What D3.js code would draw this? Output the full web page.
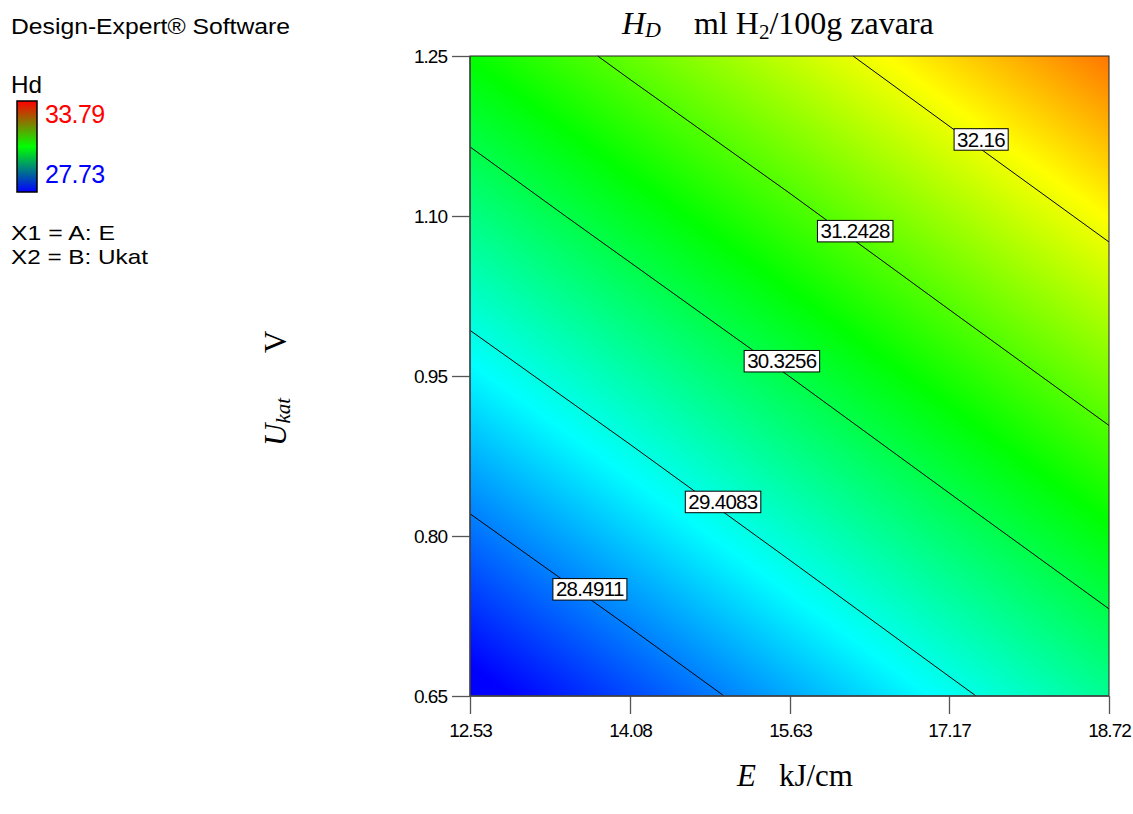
<!DOCTYPE html>
<html>
<head>
<meta charset="utf-8">
<script src="https://cdn.jsdelivr.net/npm/d3@7"></script>
<style>
  html, body { margin: 0; padding: 0; background: #fff; }
  svg { display: block; }
</style>
</head>
<body>
<svg id="chart" width="1133" height="814"></svg>
<script>
// ---------------- data ----------------
const eTicks = [12.53, 14.08, 15.63, 17.17, 18.72];   // E, kJ/cm (grid columns)
const uTicks = [0.65, 0.80, 0.95, 1.10, 1.25];        // Ukat, V (grid rows)
const eTickLabels = ["12.53", "14.08", "15.63", "17.17", "18.72"];
const uTickLabels = ["0.65", "0.80", "0.95", "1.10", "1.25"];
// Hd response estimated at the grid nodes, one row per Ukat value
const hdRow065 = [27.58, 28.15, 28.73, 29.31, 29.89];
const hdRow080 = [28.38, 28.95, 29.53, 30.11, 30.69];
const hdRow095 = [29.18, 29.75, 30.33, 30.91, 31.49];
const hdRow110 = [29.98, 30.56, 31.13, 31.71, 32.29];
const hdRow125 = [30.78, 31.36, 31.93, 32.51, 33.09];
const contourLevels = [28.4911, 29.4083, 30.3256, 31.2428, 32.16];
const contourLabels = ["28.4911", "29.4083", "30.3256", "31.2428", "32.16"];
const labelAtE = [13.69, 14.98, 15.55, 16.26, 17.48];
const legendLow = 27.73, legendHigh = 33.79;

const hdGrid = [hdRow065, hdRow080, hdRow095, hdRow110, hdRow125];

// ---------------- layout ----------------
const svg = d3.select("#chart");
const x = d3.scaleLinear().domain([eTicks[0], eTicks[eTicks.length - 1]]).range([470, 1109]);
const y = d3.scaleLinear().domain([uTicks[0], uTicks[uTicks.length - 1]]).range([696, 56]);
const mid = (legendLow + legendHigh) / 2;
const q1 = legendLow + (legendHigh - legendLow) / 4, q3 = legendLow + 3 * (legendHigh - legendLow) / 4;
const color = d3.scaleLinear()
  .domain([legendLow, q1, mid, q3, legendHigh])
  .range(["#0000ff", "#00ffff", "#00ff00", "#ffff00", "#ff0000"])
  .clamp(true);

// bilinear lookup in the grid
function hdAt(e, u) {
  let i = Math.min(Math.max(d3.bisectRight(eTicks, e) - 1, 0), eTicks.length - 2);
  let j = Math.min(Math.max(d3.bisectRight(uTicks, u) - 1, 0), uTicks.length - 2);
  const tx = (e - eTicks[i]) / (eTicks[i + 1] - eTicks[i]);
  const ty = (u - uTicks[j]) / (uTicks[j + 1] - uTicks[j]);
  const v00 = hdGrid[j][i], v10 = hdGrid[j][i + 1], v01 = hdGrid[j + 1][i], v11 = hdGrid[j + 1][i + 1];
  return (1 - ty) * ((1 - tx) * v00 + tx * v10) + ty * ((1 - tx) * v01 + tx * v11);
}

// ---------------- raster fill ----------------
const [px0, px1] = x.range();
const [py1, py0] = y.range();
const W = Math.round(px1 - px0), H = Math.round(py1 - py0);
const cv = document.createElement("canvas");
cv.width = W; cv.height = H;
const ctx = cv.getContext("2d");
const img = ctx.createImageData(W, H);
for (let r = 0; r < H; r++) {
  const u = y.invert(py0 + r + 0.5);
  for (let c = 0; c < W; c++) {
    const e = x.invert(px0 + c + 0.5);
    const col = d3.rgb(color(hdAt(e, u)));
    const k = (r * W + c) * 4;
    img.data[k] = col.r; img.data[k + 1] = col.g; img.data[k + 2] = col.b; img.data[k + 3] = 255;
  }
}
ctx.putImageData(img, 0, 0);
svg.append("image")
  .attr("x", px0).attr("y", py0).attr("width", W).attr("height", H)
  .attr("preserveAspectRatio", "none")
  .attr("href", cv.toDataURL());

// ---------------- contour segments (marching squares) ----------------
function segmentsFor(level) {
  const segs = [];
  for (let j = 0; j < uTicks.length - 1; j++) {
    for (let i = 0; i < eTicks.length - 1; i++) {
      const c = [
        [eTicks[i], uTicks[j], hdGrid[j][i]],
        [eTicks[i + 1], uTicks[j], hdGrid[j][i + 1]],
        [eTicks[i + 1], uTicks[j + 1], hdGrid[j + 1][i + 1]],
        [eTicks[i], uTicks[j + 1], hdGrid[j + 1][i]]
      ];
      const pts = [];
      for (let k = 0; k < 4; k++) {
        const a = c[k], b = c[(k + 1) % 4];
        if ((a[2] < level) !== (b[2] < level)) {
          const t = (level - a[2]) / (b[2] - a[2]);
          pts.push([a[0] + t * (b[0] - a[0]), a[1] + t * (b[1] - a[1])]);
        }
      }
      for (let k = 0; k + 1 < pts.length; k += 2) segs.push([pts[k], pts[k + 1]]);
    }
  }
  return segs;
}

const gC = svg.append("g").attr("class", "contours");
const labelData = [];
contourLevels.forEach((lv, li) => {
  const segs = segmentsFor(lv);
  segs.forEach(s => {
    gC.append("line")
      .attr("x1", x(s[0][0])).attr("y1", y(s[0][1]))
      .attr("x2", x(s[1][0])).attr("y2", y(s[1][1]))
      .attr("stroke", "#000").attr("stroke-width", 1);
    const eL = labelAtE[li];
    const lo = Math.min(s[0][0], s[1][0]), hi = Math.max(s[0][0], s[1][0]);
    if (eL >= lo && eL <= hi && hi > lo) {
      const t = (eL - s[0][0]) / (s[1][0] - s[0][0]);
      labelData.push({ e: eL, u: s[0][1] + t * (s[1][1] - s[0][1]), text: contourLabels[li] });
    }
  });
});

// frame
svg.append("rect")
  .attr("x", px0).attr("y", py0).attr("width", W).attr("height", H)
  .attr("fill", "none").attr("stroke", "#222").attr("stroke-width", 1);

// contour labels (box sits slightly above the line, as in the reference)
const gL = svg.append("g");
labelData.forEach(d => {
  const g = gL.append("g").attr("transform", `translate(${x(d.e)},${y(d.u) - 10})`);
  const rect = g.append("rect").attr("fill", "#fff").attr("stroke", "#000").attr("stroke-width", 1);
  const t = g.append("text")
    .attr("text-anchor", "middle").attr("dy", "0.36em")
    .attr("font-family", "Liberation Sans, Arial, sans-serif").attr("font-size", 20.5)
    .attr("letter-spacing", -0.7)
    .text(d.text);
  const bb = t.node().getBBox();
  rect.attr("x", bb.x - 3).attr("y", -10.5).attr("width", bb.width + 6).attr("height", 21.5);
});

// ---------------- axes ----------------
const xAxis = d3.axisBottom(x).tickValues(eTicks).tickSize(18).tickPadding(10)
  .tickFormat((d, i) => eTickLabels[i]);
const yAxis = d3.axisLeft(y).tickValues(uTicks).tickSize(18).tickPadding(5)
  .tickFormat((d, i) => uTickLabels[i]);
const gx = svg.append("g").attr("transform", `translate(0,${py1})`).call(xAxis);
const gy = svg.append("g").attr("transform", `translate(${px0},0)`).call(yAxis);
[gx, gy].forEach(g => {
  g.select(".domain").remove();
  g.selectAll(".tick line").attr("stroke", "#555").attr("stroke-width", 1.3);
  g.selectAll(".tick text").attr("fill", "#000")
    .attr("font-family", "Liberation Sans, Arial, sans-serif").attr("font-size", 19)
    .attr("letter-spacing", -1);
});
// axis lines on left and bottom
svg.append("line").attr("x1", px0).attr("x2", px0).attr("y1", py0).attr("y2", py1)
  .attr("stroke", "#444").attr("stroke-width", 1.3);
svg.append("line").attr("x1", px0).attr("x2", px1).attr("y1", py1).attr("y2", py1)
  .attr("stroke", "#444").attr("stroke-width", 1.3);

// ---------------- titles ----------------
const serif = "Liberation Serif, Times New Roman, serif";
const title = svg.append("text").attr("x", 622).attr("y", 34)
  .attr("font-family", serif).attr("font-size", 32).attr("fill", "#000");
title.append("tspan").attr("font-style", "italic").text("H");
title.append("tspan").attr("font-style", "italic").attr("font-size", 22).attr("dy", 3).text("D");
title.append("tspan").attr("dy", -3).attr("dx", 33).text("ml H");
title.append("tspan").attr("font-size", 21).attr("dy", 5).text("2");
title.append("tspan").attr("dy", -5).text("/100g zavara");

const xl = svg.append("text").attr("x", 737).attr("y", 786)
  .attr("font-family", serif).attr("font-size", 31).attr("fill", "#000");
xl.append("tspan").attr("font-style", "italic").text("E");
xl.append("tspan").attr("dx", 23).text("kJ/cm");

const yl = svg.append("text").attr("transform", "translate(286,446) rotate(-90)")
  .attr("font-family", serif).attr("font-size", 31).attr("fill", "#000");
yl.append("tspan").attr("font-style", "italic").text("U");
yl.append("tspan").attr("font-style", "italic").attr("font-size", 21).attr("dy", 4).text("kat");
yl.append("tspan").attr("dy", -4).attr("dx", 45).text("V");

// ---------------- left legend ----------------
const sans = "Liberation Sans, Arial, sans-serif";
svg.append("text").attr("x", 11).attr("y", 34).attr("font-family", sans).attr("font-size", 22)
  .attr("textLength", 279).attr("lengthAdjust", "spacingAndGlyphs").text("Design-Expert® Software");
svg.append("text").attr("x", 11).attr("y", 93).attr("font-family", sans).attr("font-size", 24)
  .attr("textLength", 31).attr("lengthAdjust", "spacingAndGlyphs").text("Hd");

const defs = svg.append("defs");
const grad = defs.append("linearGradient").attr("id", "lg").attr("x1", 0).attr("y1", 0).attr("x2", 0).attr("y2", 1);
grad.append("stop").attr("offset", "0%").attr("stop-color", "#ff0000");
grad.append("stop").attr("offset", "50%").attr("stop-color", "#00ff00");
grad.append("stop").attr("offset", "100%").attr("stop-color", "#0000ff");
svg.append("rect").attr("x", 17).attr("y", 101).attr("width", 20).attr("height", 91)
  .attr("fill", "url(#lg)").attr("stroke", "#000").attr("stroke-width", 1.5);
svg.append("text").attr("x", 45).attr("y", 123).attr("font-family", sans).attr("font-size", 25)
  .attr("fill", "#ff0000").attr("letter-spacing", -0.6).text(legendHigh.toFixed(2));
svg.append("text").attr("x", 45).attr("y", 183).attr("font-family", sans).attr("font-size", 25)
  .attr("fill", "#0000ff").attr("letter-spacing", -0.6).text(legendLow.toFixed(2));

svg.append("text").attr("x", 11).attr("y", 240).attr("font-family", sans).attr("font-size", 21)
  .attr("textLength", 104).attr("lengthAdjust", "spacingAndGlyphs").text("X1 = A: E");
svg.append("text").attr("x", 11).attr("y", 264).attr("font-family", sans).attr("font-size", 21)
  .attr("textLength", 137).attr("lengthAdjust", "spacingAndGlyphs").text("X2 = B: Ukat");
</script>
</body>
</html>
